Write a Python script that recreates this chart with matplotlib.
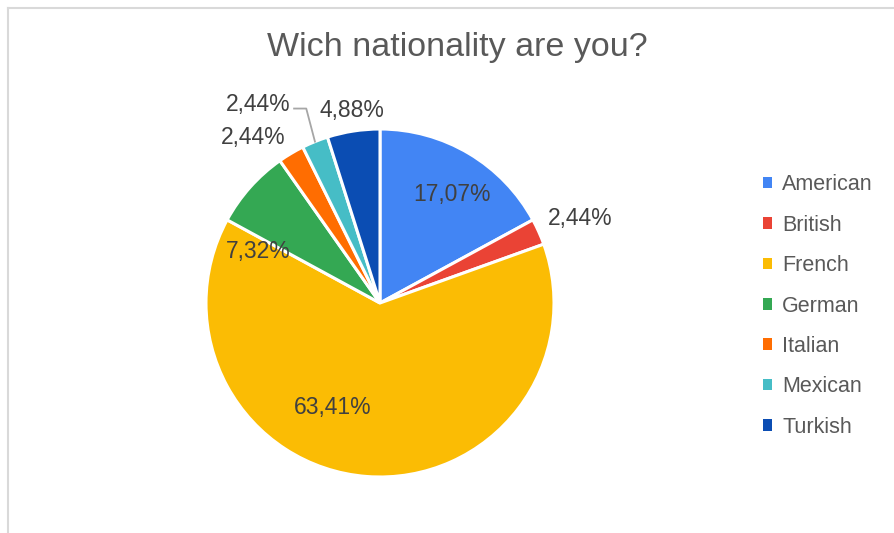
import numpy as np
import matplotlib.pyplot as plt
from matplotlib.patches import Patch

categories = ["American", "British", "French", "German", "Italian", "Mexican", "Turkish"]
counts = [7, 1, 26, 3, 1, 1, 2]
colors = ["#4285F4", "#EA4335", "#FBBC04", "#34A853", "#FF6D01", "#46BDC6", "#0B4DB3"]

# label placement (radius factor, angle in degrees) relative to the pie
label_pos = [(0.75, 56.5), (1.25, 23), (0.66, -114.5), (0.76, 157), (1.2, 127.4), (1.34, 121.5), (1.12, 98.3)]

plt.rcParams['font.family'] = ['Liberation Sans', 'DejaVu Sans']

fig = plt.figure(figsize=(8.94, 5.33), dpi=100)

# light grey chart frame (cut by the image edges)
fig.add_artist(plt.Line2D([8/894, 8/894], [0, 1 - 8/533], color="#d9d9d9", lw=1.5))
fig.add_artist(plt.Line2D([8/894, 1], [1 - 8/533, 1 - 8/533], color="#d9d9d9", lw=1.5))

ax = fig.add_axes([206/894, 56/533, 348/894, 348/533])
wedges, _ = ax.pie(counts, colors=colors, startangle=90, counterclock=False,
                   wedgeprops=dict(edgecolor="white", linewidth=2.2))
ax.set_xlim(-1, 1)
ax.set_ylim(-1, 1)
ax.set_aspect("equal")
ax.axis("off")

total = sum(counts)
for i, (c, (rf, ang)) in enumerate(zip(counts, label_pos)):
    pct = f"{100 * c / total:.2f}%".replace(".", ",")
    a = np.deg2rad(ang)
    ax.text(rf * np.cos(a), rf * np.sin(a), pct, ha="center", va="center",
            fontsize=16.5, color="#404040", clip_on=False)

# leader line for the Mexican label
w = wedges[5]
mid = np.deg2rad((w.theta1 + w.theta2) / 2)
x0, y0 = 1.0 * np.cos(mid), 1.0 * np.sin(mid)
ax.plot([x0, x0 - 0.05, x0 - 0.12], [y0, y0 + 0.19, y0 + 0.19], color="#a6a6a6", lw=1.3, clip_on=False)

fig.text(457/894, 1 - 56/533, "Wich nationality are you?", ha="center", va="baseline",
         fontsize=24.5, color="#595959")

handles = [Patch(facecolor=col, edgecolor="none") for col in colors]
fig.legend(handles, categories, loc="center left", bbox_to_anchor=(752/894, 1 - 306/533),
           frameon=False, fontsize=15.5, labelcolor="#595959", handlelength=0.45,
           handleheight=0.45, handletextpad=0.45, labelspacing=0.9, borderpad=0)

fig.savefig("out.png", dpi=100)
